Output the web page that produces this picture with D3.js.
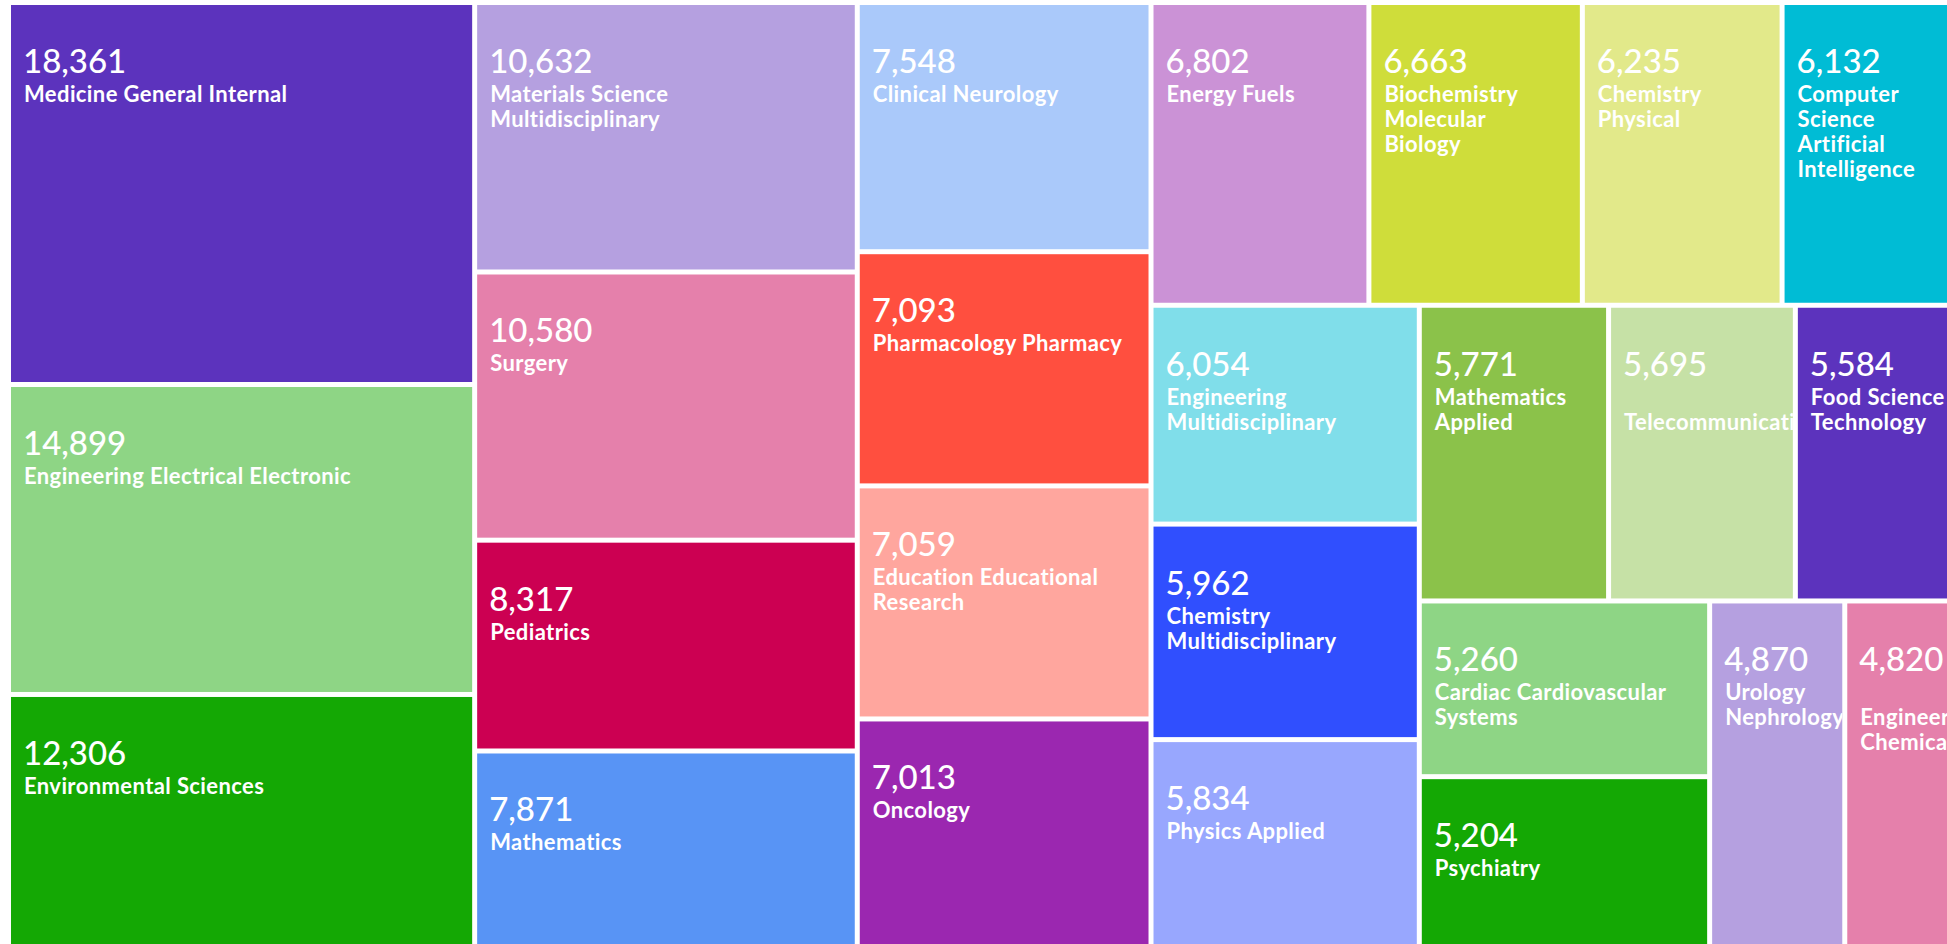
<!DOCTYPE html>
<html><head><meta charset="utf-8">
<script src="https://cdn.jsdelivr.net/npm/d3@7"></script>
<style>
html,body{margin:0;padding:0;background:#fff;overflow:hidden;}
svg{display:block;}
text{font-family:Lato,"Open Sans",sans-serif;fill:#fff;}
</style></head><body>
<svg id="chart" width="1947" height="944"></svg>
<script>
const categories = [
  "Medicine General Internal","Engineering Electrical Electronic","Environmental Sciences",
  "Materials Science Multidisciplinary","Surgery","Pediatrics","Mathematics",
  "Clinical Neurology","Pharmacology Pharmacy","Education Educational Research","Oncology",
  "Energy Fuels","Biochemistry Molecular Biology","Chemistry Physical","Computer Science Artificial Intelligence",
  "Engineering Multidisciplinary","Chemistry Multidisciplinary","Physics Applied",
  "Mathematics Applied","Telecommunications","Food Science Technology",
  "Cardiac Cardiovascular Systems","Psychiatry","Urology Nephrology","Engineering Chemical"
];
const values = [
  18361,14899,12306,
  10632,10580,8317,7871,
  7548,7093,7059,7013,
  6802,6663,6235,6132,
  6054,5962,5834,
  5771,5695,5584,
  5260,5204,4870,4820
];
const palette = [
  "#5c33bd","#8ed585","#14a804","#b5a0e0","#e580ab","#cc0052","#5894f5",
  "#aac9fa","#ff4f3f","#ffa69e","#9b27b0","#cb92d6","#cfdd3a","#e2e98a",
  "#00bcd5","#80deea","#304ffe","#98a7fe","#8bc24a","#c6e1a6"
];

const W = 1965, H = 943, PAD = 5, OX = 11, OY = 5;
const svg = d3.select("#chart");
const color = d3.scaleOrdinal().domain(categories).range(palette);
const fmt = d3.format(",");

const data = categories.map((name, i) => ({name, value: values[i]}));
const root = d3.hierarchy({children: data})
  .sum(d => d.value || 0)
  .sort((a, b) => b.value - a.value);

d3.treemap()
  .tile(d3.treemapSquarify.ratio(1.43))
  .size([W, H])
  .paddingInner(PAD)(root);

const g = svg.append("g").attr("transform", `translate(${OX},${OY})`);
const leaf = g.selectAll("g.leaf").data(root.leaves()).join("g")
  .attr("class", "leaf")
  .attr("transform", d => `translate(${d.x0},${d.y0})`);

leaf.append("clipPath").attr("id", (d, i) => "clip" + i)
  .append("rect")
  .attr("width", d => d.x1 - d.x0)
  .attr("height", d => d.y1 - d.y0);

leaf.append("rect")
  .attr("width", d => d.x1 - d.x0)
  .attr("height", d => d.y1 - d.y0)
  .attr("fill", d => color(d.data.name));

const lbl = leaf.append("g").attr("clip-path", (d, i) => `url(#clip${i})`);

lbl.append("text")
  .attr("x", 12).attr("y", 68)
  .style("font-size", "33px").style("font-weight", 500)
  .text(d => fmt(d.value));

lbl.append("text")
  .attr("class", "name")
  .attr("x", 13).attr("y", 97)
  .style("font-size", "22px").style("font-weight", 700)
  .style("letter-spacing", "0.4px")
  .each(function(d) {
    const text = d3.select(this);
    const width = (d.x1 - d.x0) - 34;
    const words = d.data.name.split(/\s+/).reverse();
    let word, line = [], lineNumber = 0;
    let tspan = text.append("tspan").attr("x", 13).attr("y", 97);
    while ((word = words.pop())) {
      line.push(word);
      tspan.text(line.join(" "));
      if (tspan.node().getComputedTextLength() > width) {
        line.pop();
        tspan.text(line.join(" "));
        line = [word];
        lineNumber++;
        tspan = text.append("tspan").attr("x", 13).attr("y", 97 + lineNumber * 25).text(word);
      }
    }
  });
</script>
</body></html>
